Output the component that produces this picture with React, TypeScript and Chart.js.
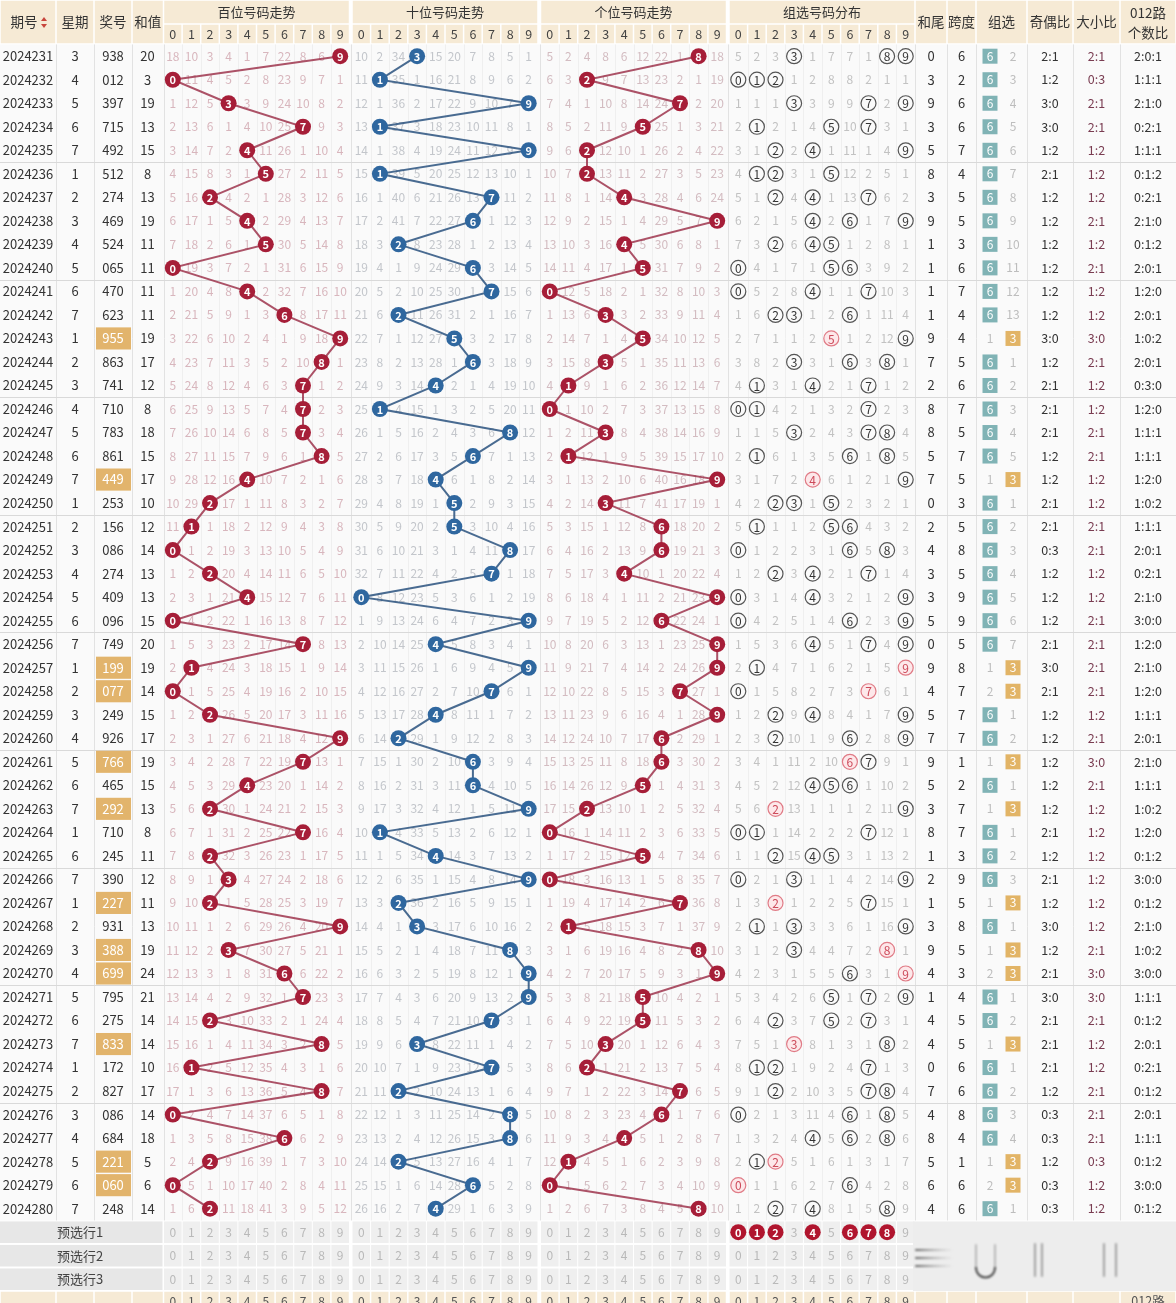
import React, { useEffect, useRef } from 'react';
import { Chart, registerables } from 'chart.js';

Chart.register(...registerables);

// ---------------- data ----------------
const periods = [
  '2024231', '2024232', '2024233', '2024234', '2024235', '2024236', '2024237', '2024238', '2024239', '2024240',
  '2024241', '2024242', '2024243', '2024244', '2024245', '2024246', '2024247', '2024248', '2024249', '2024250',
  '2024251', '2024252', '2024253', '2024254', '2024255', '2024256', '2024257', '2024258', '2024259', '2024260',
  '2024261', '2024262', '2024263', '2024264', '2024265', '2024266', '2024267', '2024268', '2024269', '2024270',
  '2024271', '2024272', '2024273', '2024274', '2024275', '2024276', '2024277', '2024278', '2024279', '2024280',
];
const weekdays = [
  3, 4, 5, 6, 7, 1, 2, 3, 4, 5, 6, 7, 1, 2, 3, 4, 5, 6, 7, 1, 2, 3, 4, 5, 6,
  7, 1, 2, 3, 4, 5, 6, 7, 1, 6, 7, 1, 2, 3, 4, 5, 6, 7, 1, 2, 3, 4, 5, 6, 7,
];
const draws = [
  '938', '012', '397', '715', '492', '512', '274', '469', '524', '065',
  '470', '623', '955', '863', '741', '710', '783', '861', '449', '253',
  '156', '086', '274', '409', '096', '749', '199', '077', '249', '926',
  '766', '465', '292', '710', '245', '390', '227', '931', '388', '699',
  '795', '275', '833', '172', '827', '086', '684', '221', '060', '248',
];
const sums = [
  20, 3, 19, 13, 15, 8, 13, 19, 11, 11, 11, 11, 19, 17, 12, 8, 18, 15, 17, 10,
  12, 14, 13, 13, 15, 20, 19, 14, 15, 17, 19, 15, 13, 8, 11, 12, 11, 13, 19, 24,
  21, 14, 14, 10, 17, 14, 18, 5, 6, 14,
];
// omission values shown in the first row (2024231) of each section (0 = hit)
const baiFirstRow = [18, 10, 3, 4, 1, 7, 22, 8, 6, 0];
const shiFirstRow = [10, 2, 34, 0, 15, 20, 7, 8, 5, 1];
const geFirstRow = [5, 2, 4, 8, 6, 12, 22, 1, 0, 18];
const zuFirstRow = [5, 2, 3, 0, 1, 7, 7, 1, 0, 0];
const zu3FirstRow = 2;
const digitLabels = ['0', '1', '2', '3', '4', '5', '6', '7', '8', '9'];
const sectionTitles = ['百位号码走势', '十位号码走势', '个位号码走势', '组选号码分布'];
const preselectRow1Zu = [0, 1, 2, 4, 6, 7, 8];
const preselectLabels = ['预选行1', '预选行2', '预选行3'];

// ---------------- layout / style ----------------
const W = 1176;
const H = 1303;
const ROW0 = 56.2;
const ROWH = 23.52;
const Y_MIN = (0 - ROW0) / ROWH;
const Y_MAX = (H - ROW0) / ROWH;
const SEC_START = [163.5, 352, 540.5, 729];
const CELL = 18.6;
const SEC_W = CELL * 10;
const HEAD_SPLIT = 24;
const HEAD_BOTTOM = 44;
const LEFT_COLS = [
  { x0: 0, x1: 56, label: '期号' },
  { x0: 56, x1: 94, label: '星期' },
  { x0: 94, x1: 132, label: '奖号' },
  { x0: 132, x1: 163.5, label: '和值' },
];
const RIGHT_COLS = [
  { x0: 915, x1: 947, label: '和尾' },
  { x0: 947, x1: 976, label: '跨度' },
  { x0: 976, x1: 1027, label: '组选' },
  { x0: 1027, x1: 1073, label: '奇偶比' },
  { x0: 1073, x1: 1120, label: '大小比' },
  { x0: 1120, x1: 1176, label: '012路|个数比' },
];
const FONT = '"Noto Sans CJK SC", "Noto Sans", sans-serif';
const HEAD_BG = '#f6ead5';
const RED = '#a61e38';
const BLUE = '#2f679f';
const OMIT_COLORS = ['#d8b6bd', '#c3c6cb', '#d3bcc1', '#c2c2c2'];

const cx = (k: number, d: number) => SEC_START[k] + CELL * (d + 0.5);

// ---------------- derived ----------------
const digits = draws.map((s) => s.split('').map(Number));
const isPair = digits.map((d) => new Set(d).size === 2);

function omissions(first: number[], hits: number[][]): number[][] {
  const out: number[][] = [];
  hits.forEach((h, i) => {
    const row: number[] = [];
    for (let d = 0; d < 10; d++) {
      if (h.includes(d)) row.push(0);
      else row.push(i === 0 ? first[d] : out[i - 1][d] + 1);
    }
    out.push(row);
  });
  return out;
}
const omitBai = omissions(baiFirstRow, digits.map((d) => [d[0]]));
const omitShi = omissions(shiFirstRow, digits.map((d) => [d[1]]));
const omitGe = omissions(geFirstRow, digits.map((d) => [d[2]]));
const omitZu = omissions(zuFirstRow, digits);
const omitAll = [omitBai, omitShi, omitGe, omitZu];

const zu3Omit: number[] = [];
const zu6Omit: number[] = [];
isPair.forEach((p, i) => {
  zu3Omit.push(p ? 0 : i === 0 ? zu3FirstRow : zu3Omit[i - 1] + 1);
  zu6Omit.push(!p ? 0 : i === 0 ? 1 : zu6Omit[i - 1] + 1);
});

const ratio = (arr: number[]) => arr.join(':');
const stats = digits.map((d, i) => {
  const odd = d.filter((v) => v % 2 === 1).length;
  const big = d.filter((v) => v >= 5).length;
  const r0 = d.filter((v) => v % 3 === 0).length;
  const r1 = d.filter((v) => v % 3 === 1).length;
  const r2 = d.filter((v) => v % 3 === 2).length;
  return {
    tail: sums[i] % 10,
    span: Math.max(...d) - Math.min(...d),
    oe: ratio([odd, 3 - odd]),
    bs: ratio([big, 3 - big]),
    r012: ratio([r0, r1, r2]),
  };
});

const tablePlugin = {
  id: 'lotteryTable',
  beforeDatasetsDraw(chart: any) {
    const ctx: CanvasRenderingContext2D = chart.ctx;
    const xs = chart.scales.x;
    const ys = chart.scales.y;
    const X = (v: number) => xs.getPixelForValue(v);
    const Y = (r: number) => ys.getPixelForValue(r);
    ctx.save();
    ctx.fillStyle = '#ffffff';
    ctx.fillRect(0, 0, W, H);
    ctx.textAlign = 'center';
    ctx.textBaseline = 'middle';

    // ---- header ----
    const cell = (x0: number, y0: number, x1: number, y1: number, color: string) => {
      ctx.fillStyle = color;
      ctx.fillRect(X(x0) + 0.75, y0 + 0.75, X(x1) - X(x0) - 1.5, y1 - y0 - 1.5);
    };
    [...LEFT_COLS, ...RIGHT_COLS].forEach((c) => cell(c.x0, 0, c.x1, HEAD_BOTTOM, HEAD_BG));
    SEC_START.forEach((s) => {
      cell(s, 0, s + SEC_W, HEAD_SPLIT, HEAD_BG);
      for (let d = 0; d < 10; d++) cell(s + d * CELL, HEAD_SPLIT, s + (d + 1) * CELL, HEAD_BOTTOM, HEAD_BG);
    });
    ctx.fillStyle = '#333';
    ctx.font = `13.5px ${FONT}`;
    LEFT_COLS.forEach((c, i) => {
      const mid = (c.x0 + c.x1) / 2;
      ctx.fillText(c.label, X(i === 0 ? mid - 4 : mid), 22);
    });
    // sort icon
    ctx.fillStyle = '#c8453c';
    ctx.beginPath();
    ctx.moveTo(X(41), 21); ctx.lineTo(X(47), 21); ctx.lineTo(X(44), 17); ctx.closePath(); ctx.fill();
    ctx.beginPath();
    ctx.moveTo(X(41), 24); ctx.lineTo(X(47), 24); ctx.lineTo(X(44), 28); ctx.closePath(); ctx.fill();
    ctx.fillStyle = '#333';
    RIGHT_COLS.forEach((c) => {
      const mid = X((c.x0 + c.x1) / 2);
      if (c.label.includes('|')) {
        const [a, b] = c.label.split('|');
        ctx.fillText(a, mid, 12.5);
        ctx.fillText(b, mid, 33);
      } else ctx.fillText(c.label, mid, 22);
    });
    ctx.font = `13px ${FONT}`;
    SEC_START.forEach((s, k) => {
      ctx.fillStyle = '#333';
      ctx.fillText(sectionTitles[k], X(s + SEC_W / 2), 12.5);
      ctx.fillStyle = '#444';
      ctx.font = `12.5px ${FONT}`;
      digitLabels.forEach((t, d) => ctx.fillText(t, X(cx(k, d)), 34));
      ctx.font = `13px ${FONT}`;
    });

    // ---- body background ----
    const bTop = Y(-0.5);
    const bBot = Y(periods.length - 0.5);
    ctx.fillStyle = '#fafafa';
    ctx.fillRect(0, bTop, W, bBot - bTop);

    // vertical lines
    ctx.lineWidth = 1;
    ctx.strokeStyle = '#efefef';
    SEC_START.forEach((s) => {
      for (let j = 1; j < 10; j++) {
        ctx.beginPath();
        ctx.moveTo(Math.round(X(s + j * CELL)) + 0.5, bTop);
        ctx.lineTo(Math.round(X(s + j * CELL)) + 0.5, bBot);
        ctx.stroke();
      }
    });
    ctx.strokeStyle = '#e2e2e2';
    const majors = [56, 94, 132, 163.5, 351, 539.5, 728, 915, 947, 976, 1027, 1073, 1120];
    majors.forEach((v) => {
      ctx.beginPath();
      ctx.moveTo(Math.round(X(v)) + 0.5, bTop);
      ctx.lineTo(Math.round(X(v)) + 0.5, bBot);
      ctx.stroke();
    });
    // every 5 rows
    ctx.strokeStyle = '#d9d9d9';
    for (let r = 5; r < periods.length; r += 5) {
      const y = Math.round(Y(r - 0.5)) + 0.5;
      ctx.beginPath();
      ctx.moveTo(0, y);
      ctx.lineTo(W, y);
      ctx.stroke();
    }

    // ---- rows ----
    periods.forEach((p, i) => {
      const y = Y(i);
      ctx.font = `13px ${FONT}`;
      ctx.fillStyle = '#333';
      ctx.fillText(p, X(28), y);
      ctx.fillText(String(weekdays[i]), X(75), y);
      if (isPair[i]) {
        ctx.fillStyle = '#e2b46c';
        ctx.fillRect(X(96), Y(i - 0.47), X(131) - X(96), Y(i + 0.47) - Y(i - 0.47));
        ctx.fillStyle = '#ffffff';
      } else ctx.fillStyle = '#333';
      ctx.fillText(draws[i], X(113), y);
      ctx.fillStyle = '#333';
      ctx.fillText(String(sums[i]), X(147.5), y);

      // omission numbers
      ctx.font = `12px ${FONT}`;
      omitAll.forEach((om, k) => {
        ctx.fillStyle = OMIT_COLORS[k];
        om[i].forEach((v, d) => {
          if (v > 0) ctx.fillText(String(v), X(cx(k, d)), y);
        });
      });

      // right columns
      const st = stats[i];
      ctx.font = `13px ${FONT}`;
      ctx.fillStyle = '#333';
      ctx.fillText(String(st.tail), X(931), y);
      ctx.fillText(String(st.span), X(961.5), y);
      const boxW = X(15) - X(0);
      if (isPair[i]) {
        ctx.fillStyle = '#bdbdbd';
        ctx.font = `12px ${FONT}`;
        ctx.fillText(String(zu6Omit[i]), X(990), y);
        ctx.fillStyle = '#e2b466';
        ctx.fillRect(X(1013) - boxW / 2, y - 7.5, boxW, 15);
        ctx.fillStyle = '#fff';
        ctx.fillText('3', X(1013), y);
      } else {
        ctx.fillStyle = '#80b3b5';
        ctx.fillRect(X(990) - boxW / 2, y - 7.5, boxW, 15);
        ctx.fillStyle = '#fff';
        ctx.font = `12px ${FONT}`;
        ctx.fillText('6', X(990), y);
        ctx.fillStyle = '#bdbdbd';
        ctx.fillText(String(zu3Omit[i]), X(1013), y);
      }
      ctx.font = `12.5px ${FONT}`;
      ctx.fillStyle = '#333';
      ctx.fillText(st.oe, X(1050), y);
      ctx.fillStyle = '#7a3d52';
      ctx.fillText(st.bs, X(1096.5), y);
      ctx.fillStyle = '#333';
      ctx.fillText(st.r012, X(1148), y);
    });

    // ---- preselect rows ----
    const n = periods.length;
    preselectLabels.forEach((lab, j) => {
      const r = n + j;
      const y0 = Y(r - 0.5);
      const y1 = Y(r + 0.5);
      ctx.fillStyle = '#e7e7e7';
      ctx.fillRect(0, y0 + 1, X(163.5) - 1, y1 - y0 - 2);
      SEC_START.forEach((s) => {
        for (let d = 0; d < 10; d++) {
          ctx.fillStyle = '#efefef';
          ctx.fillRect(X(s + d * CELL) + 0.5, y0 + 1, X(CELL) - X(0) - 1, y1 - y0 - 2);
        }
      });
      ctx.fillStyle = '#444';
      ctx.font = `13px ${FONT}`;
      ctx.fillText(lab, X(80), Y(r));
      ctx.font = `12px ${FONT}`;
      SEC_START.forEach((s, k) => {
        digitLabels.forEach((t, d) => {
          if (j === 0 && k === 3 && preselectRow1Zu.includes(d)) return;
          ctx.fillStyle = '#b9b9b9';
          ctx.fillText(t, X(cx(k, d)), Y(r));
        });
      });
    });
    // footer row
    const fr = n + 3;
    const fy0 = Y(fr - 0.5);
    [...LEFT_COLS, ...RIGHT_COLS].forEach((c) => cell(c.x0, fy0, c.x1, fy0 + 30, HEAD_BG));
    SEC_START.forEach((s, k) => {
      for (let d = 0; d < 10; d++) cell(s + d * CELL, fy0, s + (d + 1) * CELL, fy0 + 30, HEAD_BG);
      ctx.fillStyle = '#555';
      ctx.font = `12px ${FONT}`;
      digitLabels.forEach((t, d) => ctx.fillText(t, X(cx(k, d)), fy0 + 10.5));
    });
    ctx.fillStyle = '#555';
    ctx.font = `12.5px ${FONT}`;
    ctx.fillText('012路', X(1148), fy0 + 10);
    ctx.restore();
  },
  afterDatasetsDraw(chart: any) {
    const ctx: CanvasRenderingContext2D = chart.ctx;
    ctx.save();
    ctx.textAlign = 'center';
    ctx.textBaseline = 'middle';
    chart.data.datasets.forEach((ds: any, di: number) => {
      if (!ds.labelColor) return;
      const meta = chart.getDatasetMeta(di);
      ctx.fillStyle = ds.labelColor;
      ctx.font = ds.labelFont;
      meta.data.forEach((el: any, j: number) => {
        ctx.fillText(String(ds.data[j].d), el.x, el.y + 0.5);
      });
    });
    // overlay in the bottom-right area
    const ys = chart.scales.y;
    const xs = chart.scales.x;
    const n = periods.length;
    const oy0 = ys.getPixelForValue(n - 0.5);
    const oy1 = ys.getPixelForValue(n + 2.5);
    const ox0 = xs.getPixelForValue(913);
    ctx.fillStyle = '#ededed';
    ctx.fillRect(ox0, oy0 + 1, W - ox0, oy1 - oy0 - 1);
    ctx.filter = 'blur(1.2px)';
    ctx.lineCap = 'round';
    const g = ctx.createLinearGradient(ox0, 0, ox0 + 40, 0);
    g.addColorStop(0, 'rgba(40,40,40,0.75)');
    g.addColorStop(1, 'rgba(120,120,120,0)');
    ctx.strokeStyle = g;
    ctx.lineWidth = 2;
    [1250, 1258, 1266].forEach((y) => {
      ctx.beginPath();
      ctx.moveTo(ox0 + 3, y);
      ctx.lineTo(ox0 + 42, y);
      ctx.stroke();
    });
    ctx.strokeStyle = 'rgba(90,90,90,0.35)';
    ctx.lineWidth = 2;
    ctx.beginPath();
    ctx.moveTo(976, 1245); ctx.lineTo(976, 1268);
    ctx.moveTo(995, 1245); ctx.lineTo(995, 1268);
    ctx.stroke();
    ctx.strokeStyle = 'rgba(30,30,30,0.8)';
    ctx.beginPath();
    ctx.arc(985.5, 1268, 9.5, 0, Math.PI);
    ctx.stroke();
    ctx.strokeStyle = 'rgba(70,70,70,0.45)';
    [1035, 1042, 1104, 1116].forEach((x) => {
      ctx.beginPath();
      ctx.moveTo(x, 1244);
      ctx.lineTo(x, 1276);
      ctx.stroke();
    });
    ctx.filter = 'none';
    ctx.restore();
  },
};

export default function App() {
  const ref = useRef<HTMLCanvasElement>(null);
  useEffect(() => {
    const ballSet = (k: number, pos: number) =>
      digits.map((d, i) => ({ x: cx(k, d[pos]), y: i, d: d[pos] }));
    const zuNormal: any[] = [];
    const zuPair: any[] = [];
    digits.forEach((d, i) => {
      const uniq = Array.from(new Set(d));
      uniq.forEach((v) => {
        const cnt = d.filter((x) => x === v).length;
        (cnt > 1 ? zuPair : zuNormal).push({ x: cx(3, v), y: i, d: v });
      });
    });
    const pre = preselectRow1Zu.map((v) => ({ x: cx(3, v), y: periods.length, d: v }));
    const trend = (data: any[], color: string, line: string) => ({
      data,
      showLine: true,
      borderColor: line,
      borderWidth: 2,
      pointRadius: 8,
      pointHoverRadius: 8,
      pointBackgroundColor: color,
      pointBorderColor: color,
      pointBorderWidth: 0,
      labelColor: '#ffffff',
      labelFont: `bold 11px ${FONT}`,
    });
    const chart = new Chart(ref.current as HTMLCanvasElement, {
      type: 'scatter',
      data: {
        datasets: [
          trend(ballSet(0, 0), RED, 'rgba(158,52,76,0.85)'),
          trend(ballSet(1, 1), BLUE, 'rgba(48,86,130,0.88)'),
          trend(ballSet(2, 2), RED, 'rgba(158,52,76,0.85)'),
          {
            data: zuNormal,
            showLine: false,
            pointRadius: 7.5,
            pointHoverRadius: 7.5,
            pointBackgroundColor: '#fafafa',
            pointBorderColor: '#555555',
            pointBorderWidth: 1.2,
            labelColor: '#333333',
            labelFont: `12px ${FONT}`,
          },
          {
            data: zuPair,
            showLine: false,
            pointRadius: 7.5,
            pointHoverRadius: 7.5,
            pointBackgroundColor: '#fde8ea',
            pointBorderColor: '#e07b86',
            pointBorderWidth: 1.2,
            labelColor: '#cc4a5a',
            labelFont: `12px ${FONT}`,
          },
          {
            data: pre,
            showLine: false,
            pointRadius: 8,
            pointHoverRadius: 8,
            pointBackgroundColor: '#b0152e',
            pointBorderWidth: 0,
            labelColor: '#ffffff',
            labelFont: `bold 11px ${FONT}`,
          },
        ] as any,
      },
      options: {
        responsive: false,
        maintainAspectRatio: false,
        animation: false,
        devicePixelRatio: 1,
        events: [],
        layout: { padding: 0, autoPadding: false },
        scales: {
          x: { type: 'linear', min: 0, max: W, display: false },
          y: { type: 'linear', min: Y_MIN, max: Y_MAX, reverse: true, display: false },
        },
        plugins: { legend: { display: false }, tooltip: { enabled: false } },
      } as any,
      plugins: [tablePlugin],
    });
    return () => chart.destroy();
  }, []);
  return (
    <div style={{ width: W, height: H, overflow: 'hidden' }}>
      <style>{'body{margin:0;}'}</style>
      <canvas ref={ref} width={W} height={H} style={{ display: 'block', width: W, height: H }} />
    </div>
  );
}
